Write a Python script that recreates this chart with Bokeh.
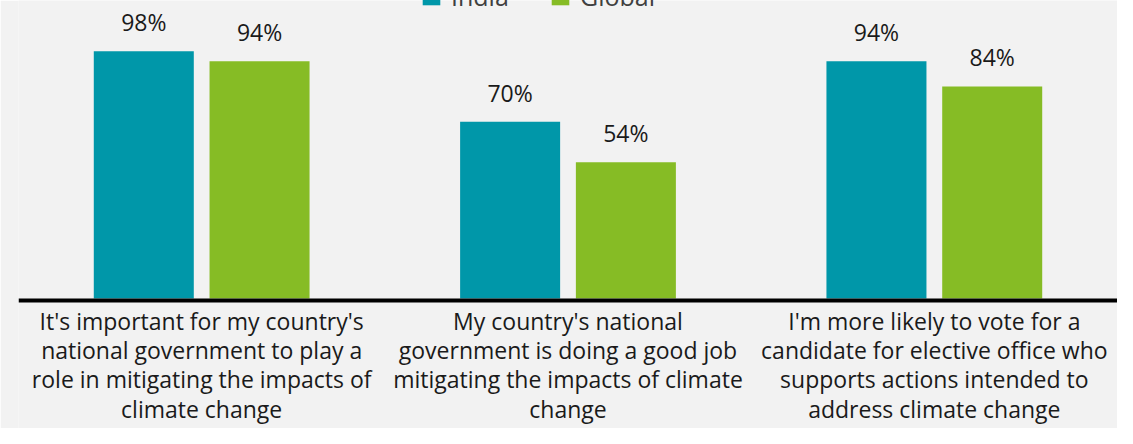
from bokeh.plotting import figure
from bokeh.models import FactorRange, Range1d, Span, Legend, LegendItem, ColumnDataSource
from bokeh.transform import dodge
from bokeh.core.properties import value
from bokeh.embed import file_html
from bokeh.resources import INLINE

# ---- data ----
categories = [
    "It's important for my country's\nnational government to play a\nrole in mitigating the impacts of\nclimate change",
    "My country's national\ngovernment is doing a good job\nmitigating the impacts of climate\nchange",
    "I'm more likely to vote for a\ncandidate for elective office who\nsupports actions intended to\naddress climate change",
]
series = ["India", "Global"]
india = [98, 70, 94]
global_vals = [94, 54, 84]

# ---- style ----
BG = "#f2f2f2"
TEAL = "#0097a9"
GREEN = "#86bc25"
TXT = "#1a1a1a"
FONT = "Open Sans"

src = ColumnDataSource(dict(
    cat=categories,
    india=india,
    glob=global_vals,
    india_lbl=[f"{v}%" for v in india],
    glob_lbl=[f"{v}%" for v in global_vals],
    zero=[0] * len(categories),
))

W, H = 1117, 428
PX = 2.524  # pixels per percent
ZERO = 298  # pixel row of the baseline
p = figure(
    width=W, height=H,
    x_range=FactorRange(factors=categories, range_padding=0),
    y_range=Range1d(-(H - ZERO) / PX, ZERO / PX),
    x_axis_location=None, y_axis_location=None,
    output_backend="svg", toolbar_location=None,
    min_border_left=18, min_border_right=0, min_border_top=0, min_border_bottom=0,
    background_fill_color=BG, border_fill_color=BG, outline_line_color=None,
)
p.grid.visible = False

off = 0.158
bw = 0.273
r1 = p.vbar(x=dodge("cat", -off, range=p.x_range), top="india", width=bw, source=src,
            fill_color=TEAL, line_color=None)
r2 = p.vbar(x=dodge("cat", off, range=p.x_range), top="glob", width=bw, source=src,
            fill_color=GREEN, line_color=None)

common = dict(text_align="center", text_baseline="alphabetic", y_offset=-29,
              text_font=value(FONT), text_font_size="23px", text_color=TXT, source=src)
p.text(x=dodge("cat", -off, range=p.x_range), y="india", text="india_lbl", **common)
p.text(x=dodge("cat", off, range=p.x_range), y="glob", text="glob_lbl", **common)

p.add_layout(Span(location=-2 / PX, dimension="width", line_color="black", line_width=4))

p.text(x="cat", y="zero", text="cat", source=src, text_align="center", text_baseline="top",
       y_offset=6, text_font=value(FONT), text_font_size="23px", text_color=TXT,
       text_line_height=0.92)

legend = Legend(
    items=[LegendItem(label=series[0], renderers=[r1]), LegendItem(label=series[1], renderers=[r2])],
    orientation="horizontal", location=(402, H - 13),
    glyph_width=22, glyph_height=22, label_standoff=9, label_width=98, spacing=0,
    padding=0, margin=0, border_line_alpha=0, background_fill_alpha=0,
    label_text_font=FONT, label_text_font_size="25px", label_text_color="#404040",
)
p.add_layout(legend)

open("out.html", "w").write(file_html(p, INLINE))
